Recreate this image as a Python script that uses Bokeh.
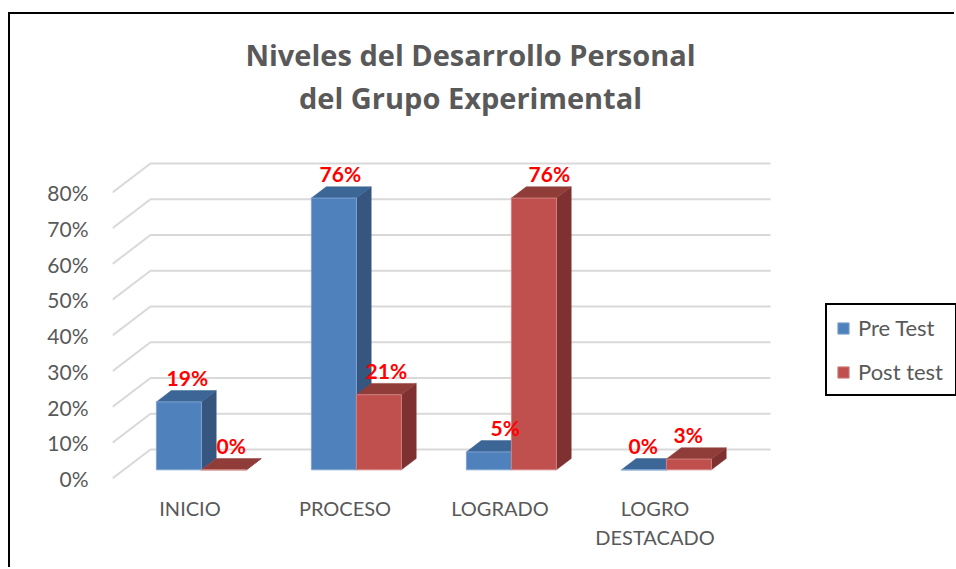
import numpy as np
from bokeh.plotting import figure
from bokeh.models import (ColumnDataSource, FixedTicker, NumeralTickFormatter,
                          Range1d, Legend, LegendItem)
from bokeh.core.properties import value
from bokeh.embed import file_html
from bokeh.resources import INLINE

# ---------------- data ----------------
categories = ["INICIO", "PROCESO", "LOGRADO", "LOGRO DESTACADO"]
axis_labels = ["INICIO", "PROCESO", "LOGRADO", "LOGRO\nDESTACADO"]
series_names = ["Pre Test", "Post test"]
pre_test = [0.19, 0.76, 0.05, 0.00]
post_test = [0.00, 0.21, 0.76, 0.03]
y_ticks = [0.0, 0.1, 0.2, 0.3, 0.4, 0.5, 0.6, 0.7, 0.8]
title_lines = ["Niveles del Desarrollo Personal", "del Grupo Experimental"]

# label nudges (px) as placed by the original chart
pre_label_dx = [1, -1, 9, -8]
post_label_dx = [0, 0, 8, -8]

# ---------------- geometry / style ----------------
W, H = 946, 555
LEFT, BOTTOM = 102, 87
PX_X, PX_Y = 155.0, 357.5          # px per category, px per 100 %
FLOOR_PX = 4                        # floor front edge above frame bottom
frame_w, frame_h = W - LEFT, H - BOTTOM
DX, DY = 38 / PX_X, 29 / PX_Y       # depth projection (data units)
D0, D1 = 0.30, 0.69                 # bar front / back depth fractions
BW = 45 / PX_X                      # bar width (category units)

FONT = "Lato"
GRAY = "#595959"
colors = {
    "Pre Test": dict(front="#4F81BD", side="#36567F", top="#3C6696", edge="#7FA3D2"),
    "Post test": dict(front="#C0504D", side="#7E3130", top="#903D3A", edge="#D08280"),
}

p = figure(width=W, height=H,
           x_range=Range1d(0, frame_w / PX_X),
           y_range=Range1d(-FLOOR_PX / PX_Y, (frame_h - FLOOR_PX) / PX_Y),
           output_backend="svg", toolbar_location=None, title=None,
           min_border=0, min_border_left=LEFT, min_border_bottom=BOTTOM)
p.outline_line_color = None
p.xgrid.visible = False
p.ygrid.visible = False
p.background_fill_color = "white"
p.border_fill_color = "white"
p.styles = {"margin-top": "12px", "margin-left": "8px",
            "border-left": "2px solid black",
            "border-top": "2px solid black"}

ncat = len(categories)
centers = [i + 0.5 for i in range(ncat)]

# ---------------- perspective gridlines ----------------
gx = [[0, DX, ncat + DX] for t in y_ticks]
gy = [[t, t + DY, t + DY] for t in y_ticks]
p.multi_line(gx, gy, line_color="#D9D9D9", line_width=2)

# ---------------- 3D bars ----------------
front_renderers = {}
label_rows = dict(x=[], y=[], text=[], dx=[])
for s, (name, vals, ldx) in enumerate(zip(series_names, [pre_test, post_test],
                                          [pre_label_dx, post_label_dx])):
    c = colors[name]
    x0s = [cx - BW + s * BW for cx in centers]
    x1s = [x0 + BW for x0 in x0s]
    fl, fr, fb, ft = [], [], [], []
    side_x, side_y, top_x, top_y = [], [], [], []
    for x0, x1, v in zip(x0s, x1s, vals):
        b0, b1 = D0 * DY, D1 * DY
        a0, a1 = D0 * DX, D1 * DX
        fl.append(x0 + a0); fr.append(x1 + a0); fb.append(b0); ft.append(b0 + v)
        side_x.append([x1 + a0, x1 + a1, x1 + a1, x1 + a0])
        side_y.append([b0, b1, b1 + v, b0 + v])
        top_x.append([x0 + a0, x1 + a0, x1 + a1, x0 + a1])
        top_y.append([b0 + v, b0 + v, b1 + v, b1 + v])
    p.patches(side_x, side_y, fill_color=c["side"], line_color=c["side"], line_width=0.5)
    p.patches(top_x, top_y, fill_color=c["top"], line_color=c["top"], line_width=0.5)
    front_renderers[name] = p.quad(left=fl, right=fr, bottom=fb, top=ft,
                                   fill_color=c["front"], line_color=c["edge"],
                                   line_width=1)
    for x0, x1, v, d in zip(x0s, x1s, vals, ldx):
        label_rows["x"].append((x0 + x1) / 2 + (D0 + D1) / 2 * DX)
        label_rows["y"].append(v + D1 * DY)
        label_rows["text"].append(f"{round(v * 100):.0f}%")
        label_rows["dx"].append(d)

p.text(x="x", y="y", text="text", x_offset="dx", y_offset=-13,
       source=ColumnDataSource(label_rows), text_align="center",
       text_baseline="alphabetic", text_color="#FF0000",
       text_font=value(FONT), text_font_style="bold", text_font_size="21px")

# ---------------- title ----------------
title_x = (470 - 112) / PX_X
p.text(x=[title_x, title_x], y=[(478 - 63) / PX_Y, (478 - 106) / PX_Y],
       text=title_lines, text_align="center", text_baseline="alphabetic",
       y_offset=-9,
       text_color=GRAY, text_font=value("Open Sans"), text_font_style="bold",
       text_font_size="29px")

# ---------------- axes ----------------
yax = p.yaxis[0]
yax.ticker = FixedTicker(ticks=y_ticks)
yax.formatter = NumeralTickFormatter(format="0%")
yax.axis_line_color = None
yax.major_tick_line_color = None
yax.minor_tick_line_color = None
yax.major_label_standoff = 18
yax.major_label_text_font = FONT
yax.major_label_text_font_size = "21px"
yax.major_label_text_color = GRAY

xax = p.xaxis[0]
xax.ticker = FixedTicker(ticks=centers)
xax.major_label_overrides = {cx: lab for cx, lab in zip(centers, axis_labels)}
xax.axis_line_color = None
xax.major_tick_line_color = None
xax.minor_tick_line_color = None
xax.major_label_standoff = 7
xax.major_label_text_font = FONT
xax.major_label_text_font_size = "20px"
xax.major_label_text_color = GRAY
xax.major_label_text_line_height = 1.22

# ---------------- legend ----------------
legend = Legend(items=[LegendItem(label=n, renderers=[front_renderers[n]])
                       for n in series_names],
                location=(713, 86), orientation="vertical",
                border_line_color="black", border_line_width=2,
                border_line_alpha=1.0,
                background_fill_color="white", background_fill_alpha=1,
                glyph_width=14, glyph_height=14, label_standoff=8,
                label_height=20, label_width=88, spacing=17, padding=9,
                margin=0,
                label_text_font=FONT, label_text_font_size="22px",
                label_text_color=GRAY)
p.add_layout(legend, "center")

open("out.html", "w").write(file_html(p, INLINE))
